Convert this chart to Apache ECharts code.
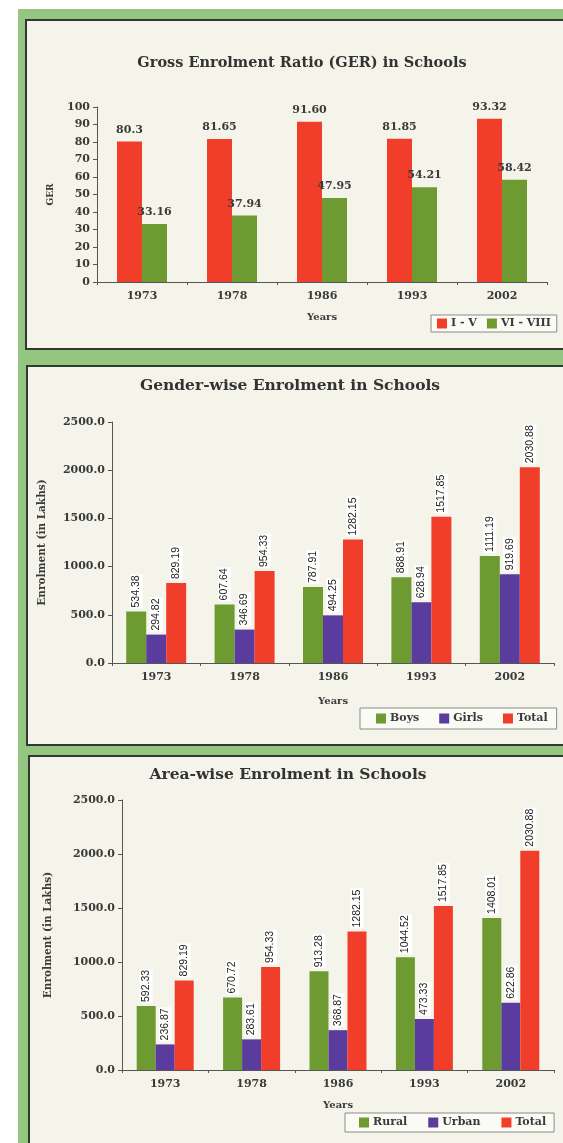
<!DOCTYPE html>
<html><head><meta charset="utf-8">
<script src="https://cdn.jsdelivr.net/npm/echarts@6/dist/echarts.min.js"></script>
<style>html,body{margin:0;padding:0;background:#fff}#c{width:563px;height:1143px}</style>
</head><body><div id="c"></div>
<script>
const years = ['1973','1978','1986','1993','2002'];
const gerPrimary = [80.3, 81.65, 91.60, 81.85, 93.32];
const gerUpper = [33.16, 37.94, 47.95, 54.21, 58.42];
const gerPrimaryLabels = ['80.3','81.65','91.60','81.85','93.32'];
const boys = [534.38, 607.64, 787.91, 888.91, 1111.19];
const girls = [294.82, 346.69, 494.25, 628.94, 919.69];
const totalEnrol = [829.19, 954.33, 1282.15, 1517.85, 2030.88];
const rural = [592.33, 670.72, 913.28, 1044.52, 1408.01];
const urban = [236.87, 283.61, 368.87, 473.33, 622.86];

const RED = '#f03e2b', GREEN = '#6d9b32', PURPLE = '#5a3c9e';
const SERIF = 'DejaVu Serif';
const TXT = '#3a3a3a';

const chart = echarts.init(document.getElementById('c'), null, {renderer: 'canvas'});

function yAxisCfg(grid, max, interval, name, nameGap, dec, nameSize) {
  return {
    type: 'value', gridIndex: grid, min: 0, max: max, interval: interval,
    name: name, nameLocation: 'middle', nameGap: nameGap,
    nameTextStyle: {fontFamily: SERIF, fontWeight: 'bold', fontSize: nameSize, color: TXT},
    axisLine: {show: true, lineStyle: {color: '#555', width: 1}},
    axisTick: {show: true, length: 4, lineStyle: {color: '#555'}},
    splitLine: {show: false},
    axisLabel: {fontFamily: SERIF, fontWeight: 'bold', fontSize: 11, color: TXT, margin: 7,
      formatter: v => dec ? v.toFixed(1) : String(v)}
  };
}
function xAxisCfg(grid, nameGap) {
  return {
    type: 'category', gridIndex: grid, data: years,
    name: 'Years', nameLocation: 'middle', nameGap: nameGap,
    nameTextStyle: {fontFamily: SERIF, fontWeight: 'bold', fontSize: 10, color: TXT},
    axisLine: {lineStyle: {color: '#555', width: 1}},
    axisTick: {show: true, length: 3, lineStyle: {color: '#555'}},
    axisLabel: {fontFamily: SERIF, fontWeight: 'bold', fontSize: 11, color: TXT, margin: 9}
  };
}
const topLabel = {show: true, position: 'top', distance: 6, fontFamily: SERIF, fontWeight: 'bold', fontSize: 11, color: TXT};
const vLabel = {show: true, position: 'top', rotate: 90, align: 'left', verticalAlign: 'middle', distance: 3,
  fontFamily: 'Liberation Sans', fontSize: 10.5, color: '#222', backgroundColor: '#ffffff', padding: [1, 1, 1, 1],
  formatter: p => p.value.toFixed(2)};

function barSeries(name, data, color, idx, width, label) {
  return {type: 'bar', name: name, data: data, xAxisIndex: idx, yAxisIndex: idx,
    barWidth: width, barGap: '0%', itemStyle: {color: color}, label: label};
}
function legendCfg(names, left, top, w, gap, pad) {
  return {data: names, left: left, top: top, width: w, itemWidth: 10, itemHeight: 10, itemGap: gap,
    icon: 'rect', backgroundColor: '#fbfbf6', borderColor: '#8a8a8a', borderWidth: 1, borderRadius: 0,
    padding: pad,
    textStyle: {fontFamily: SERIF, fontWeight: 'bold', fontSize: 11, color: TXT, padding: [0, 0, 0, -1]}};
}

const panelBg = '#f5f4ea';
const option = {
  animation: false,
  backgroundColor: '#ffffff',
  graphic: [
    {type: 'rect', shape: {x: 18, y: 9, width: 560, height: 1150}, style: {fill: '#95c681'}, z: -10},
    {type: 'rect', shape: {x: 26, y: 20, width: 560, height: 329}, style: {fill: panelBg, stroke: '#2e3a2e', lineWidth: 2}, z: -9},
    {type: 'rect', shape: {x: 27, y: 366, width: 560, height: 379}, style: {fill: panelBg, stroke: '#2e3a2e', lineWidth: 2}, z: -9},
    {type: 'rect', shape: {x: 29, y: 756, width: 560, height: 420}, style: {fill: panelBg, stroke: '#2e3a2e', lineWidth: 2}, z: -9}
  ],
  title: [
    {text: 'Gross Enrolment Ratio (GER) in Schools', left: 297, top: 51, textAlign: 'center',
      textStyle: {fontFamily: SERIF, fontWeight: 'bold', fontSize: 14.5, color: '#333'}},
    {text: 'Gender-wise Enrolment in Schools', left: 285, top: 373, textAlign: 'center',
      textStyle: {fontFamily: SERIF, fontWeight: 'bold', fontSize: 15.5, color: '#333'}},
    {text: 'Area-wise Enrolment in Schools', left: 283, top: 762, textAlign: 'center',
      textStyle: {fontFamily: SERIF, fontWeight: 'bold', fontSize: 15.5, color: '#333'}}
  ],
  legend: [
    legendCfg(['I - V', 'VI - VIII'], 431, 315, 130, 10, [3, 6, 3, 6]),
    legendCfg(['Boys', 'Girls', 'Total'], 360, 708, 200, 20, [5, 9, 5, 16]),
    legendCfg(['Rural', 'Urban', 'Total'], 345, 1113, 215, 21, [4, 8, 4, 14])
  ],
  grid: [
    {left: 97, top: 107, width: 450, height: 175},
    {left: 112, top: 422, width: 442, height: 241},
    {left: 122, top: 800, width: 432, height: 270}
  ],
  xAxis: [xAxisCfg(0, 30), xAxisCfg(1, 33), xAxisCfg(2, 30)],
  yAxis: [
    yAxisCfg(0, 100, 10, 'GER', 42, false, 9),
    yAxisCfg(1, 2500, 500, 'Enrolment (in Lakhs)', 64, true, 10.5),
    yAxisCfg(2, 2500, 500, 'Enrolment (in Lakhs)', 68, true, 10.5)
  ],
  series: [
    barSeries('I - V', gerPrimary, RED, 0, 25, Object.assign({}, topLabel, {formatter: p => gerPrimaryLabels[p.dataIndex]})),
    barSeries('VI - VIII', gerUpper, GREEN, 0, 25, Object.assign({}, topLabel, {formatter: p => p.value.toFixed(2)})),
    barSeries('Boys', boys, GREEN, 1, 20, vLabel),
    barSeries('Girls', girls, PURPLE, 1, 20, vLabel),
    barSeries('Total', totalEnrol, RED, 1, 20, vLabel),
    barSeries('Rural', rural, GREEN, 2, 19, vLabel),
    barSeries('Urban', urban, PURPLE, 2, 19, vLabel),
    barSeries('Total', totalEnrol, RED, 2, 19, vLabel)
  ]
};
chart.setOption(option);
</script></body></html>
